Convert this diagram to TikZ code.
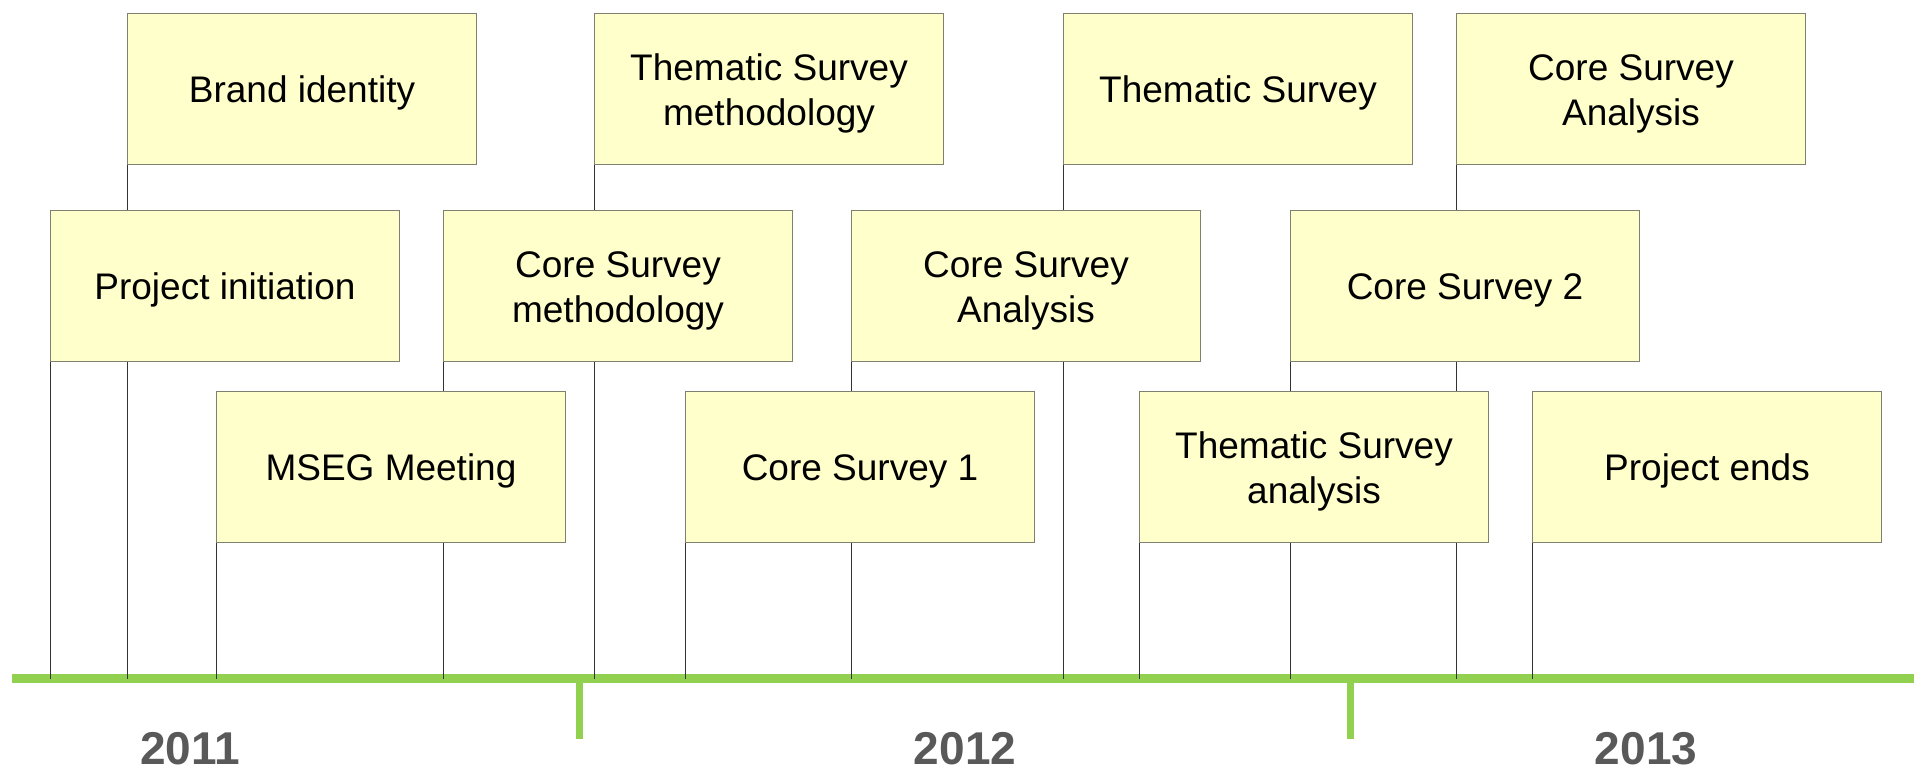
\documentclass[tikz,border=0pt]{standalone}
\usepackage{fontspec}
\setmainfont{Liberation Sans}
\pgfdeclarelayer{bg}\pgfdeclarelayer{mid}\pgfsetlayers{bg,mid,main}
\definecolor{boxfill}{HTML}{FFFFCC}
\definecolor{boxdraw}{HTML}{808070}
\definecolor{bargreen}{HTML}{92D050}
\definecolor{yeargray}{HTML}{595959}
\newcommand{\evtext}[1]{\raisebox{-2.5pt}[\height][\depth]{\begin{tabular}{@{}c@{}}#1\end{tabular}}}
\begin{document}
\begin{tikzpicture}[x=0.5pt,y=-0.5pt,
 ev/.style={draw=boxdraw, fill=boxfill, line width=0.5pt, minimum width=174.5pt, minimum height=75.5pt, inner sep=0pt, anchor=north west, align=center, font=\fontsize{18.5}{22.2}\selectfont},
 stem/.style={draw=black!80, line width=0.5pt},
 year/.style={font=\fontsize{23}{27}\selectfont\bfseries, text=yeargray, anchor=base}]
\useasboundingbox (0,0) rectangle (1914,768);
\coordinate (barline) at (0,679);
\begin{pgfonlayer}{bg}
\fill[white] (0,0) rectangle (1914,768);
\fill[bargreen] (12,674) rectangle (1914,683);
\fill[bargreen] (575.5,683) rectangle (582.5,739);
\fill[bargreen] (1346.5,683) rectangle (1353.5,739);
\end{pgfonlayer}
\node[ev] (b1) at (50,210) {\evtext{Project initiation}};
\node[ev] (b2) at (127,13) {\evtext{Brand identity}};
\node[ev] (b3) at (216,391) {\evtext{MSEG Meeting}};
\node[ev] (b4) at (443,210) {\evtext{Core Survey\\methodology}};
\node[ev] (b5) at (594,13) {\evtext{Thematic Survey\\methodology}};
\node[ev] (b6) at (685,391) {\evtext{Core Survey 1}};
\node[ev] (b7) at (851,210) {\evtext{Core Survey\\Analysis}};
\node[ev] (b8) at (1063,13) {\evtext{Thematic Survey}};
\node[ev] (b9) at (1139,391) {\evtext{Thematic Survey\\analysis}};
\node[ev] (b10) at (1290,210) {\evtext{Core Survey 2}};
\node[ev] (b11) at (1456,13) {\evtext{Core Survey\\Analysis}};
\node[ev] (b12) at (1532,391) {\evtext{Project ends}};
\begin{pgfonlayer}{mid}
\foreach \b in {b1,b2,b3,b4,b5,b6,b7,b8,b9,b10,b11,b12}
  \draw[stem] (\b.south west) -- (\b.south west |- barline);
\end{pgfonlayer}
\node[year] (y1) at (190,764) {2011};
\node[year] (y2) at (965,764) {2012};
\node[year] (y3) at (1646,764) {2013};
\end{tikzpicture}
\end{document}
